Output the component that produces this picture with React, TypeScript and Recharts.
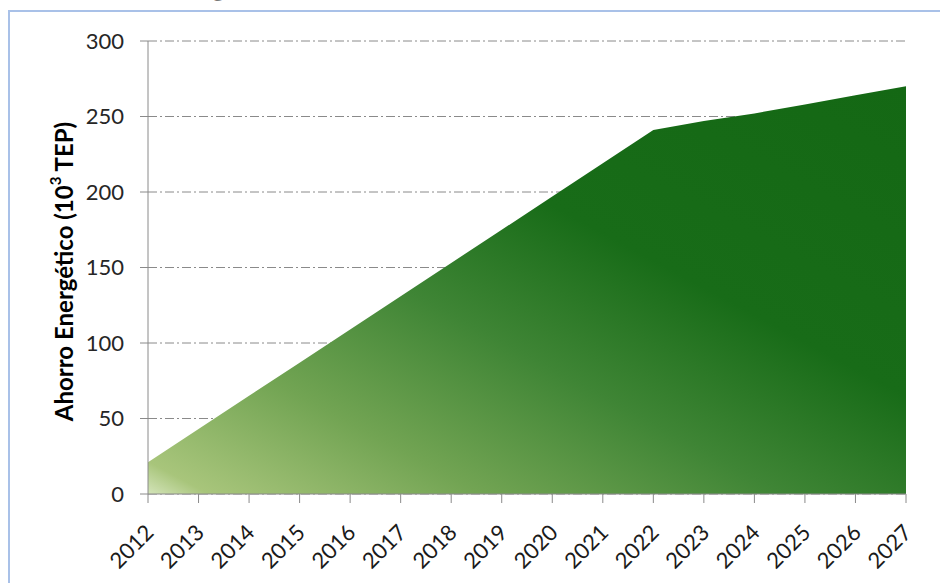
import React from 'react';
import { AreaChart, Area, XAxis, YAxis, CartesianGrid } from 'recharts';

const years = ['2012','2013','2014','2015','2016','2017','2018','2019','2020','2021','2022','2023','2024','2025','2026','2027'];
const savings = [21, 43, 65, 87, 109, 131, 153, 175, 197, 219, 241, 247, 252, 258, 264, 270];
const yTicks = [0, 50, 100, 150, 200, 250, 300];
const yAxisTitle = 'Ahorro Energético (10';
const yAxisTitleSup = '3';
const yAxisTitleEnd = ' TEP)';
const chartTitle = 'Ahorro de Energía (10³ TEP)';

const data = years.map((y, i) => ({ year: y, value: savings[i] }));

const FONT = 'Lato, "Open Sans", sans-serif';

const XTick = (props: any) => {
  const { x, y, payload } = props;
  const px = x + 7;
  const py = y + 31;
  return (
    <text
      x={px}
      y={py}
      textAnchor="end"
      fontSize={22}
      fontFamily={FONT}
      fill="#1a1a1a"
      transform={`rotate(-45, ${px}, ${py})`}
    >
      {payload.value}
    </text>
  );
};

const YTitle = (props: any) => {
  const vb = props.viewBox || { x: 0, y: 0, width: 0, height: 0 };
  const cx = 63;
  const cy = vb.y + vb.height / 2 + 4;
  return (
    <text
      x={cx}
      y={cy}
      textAnchor="middle"
      fontSize={24}
      fontWeight="bold"
      fontFamily={FONT}
      fill="#000"
      transform={`rotate(-90, ${cx}, ${cy})`}
      dominantBaseline="central"
    >
      {yAxisTitle}
      <tspan fontSize={15} dy={-8}>{yAxisTitleSup}</tspan>
      <tspan dy={8}>{yAxisTitleEnd}</tspan>
    </text>
  );
};

export default function App() {
  return (
    <div style={{ position: 'absolute', left: 0, top: 0, width: 940, height: 583, overflow: 'hidden', background: '#fff' }}>
      <div
        style={{
          position: 'absolute',
          left: -90,
          top: -46,
          fontFamily: FONT,
          fontWeight: 'bold',
          fontSize: 44,
          lineHeight: '44px',
          whiteSpace: 'nowrap',
          color: '#000',
        }}
      >
        {chartTitle}
      </div>
      <div
        style={{
          position: 'absolute',
          left: 8,
          top: 10,
          width: 940,
          height: 600,
          borderTop: '2px solid #a9c1e8',
          borderLeft: '2px solid #a9c1e8',
        }}
      />
      <div style={{ position: 'absolute', left: 0, top: 0 }}>
        <AreaChart
          width={940}
          height={583}
          data={data}
          margin={{ top: 41, right: 34, bottom: 0, left: 0 }}
        >
          <defs>
            <linearGradient id="greenFill" x1="0" y1="1" x2="1" y2="0">
              <stop offset="0" stopColor="#d4e4ba" />
              <stop offset="0.04" stopColor="#a8c57b" />
              <stop offset="0.22" stopColor="#72a453" />
              <stop offset="0.42" stopColor="#3f8535" />
              <stop offset="0.62" stopColor="#186c18" />
              <stop offset="1" stopColor="#146814" />
            </linearGradient>
          </defs>
          <CartesianGrid
            vertical={false}
            stroke="#8a8a8a"
            strokeDasharray="9 3 2 3"
          />
          <XAxis
            dataKey="year"
            interval={0}
            height={89}
            tickSize={9}
            tickMargin={0}
            stroke="#8a8a8a"
            tickLine={{ stroke: '#8a8a8a' }}
            tick={<XTick />}
          />
          <YAxis
            domain={[0, 300]}
            ticks={yTicks}
            width={148}
            tickSize={8}
            tickMargin={16}
            stroke="#8a8a8a"
            tickLine={{ stroke: '#8a8a8a' }}
            tick={{ fontSize: 22, fontFamily: FONT, fill: '#262626' }}
            label={{ content: <YTitle /> }}
          />
          <Area
            type="linear"
            dataKey="value"
            stroke="none"
            fill="url(#greenFill)"
            fillOpacity={1}
            isAnimationActive={false}
            dot={false}
            activeDot={false}
          />
        </AreaChart>
      </div>
    </div>
  );
}
